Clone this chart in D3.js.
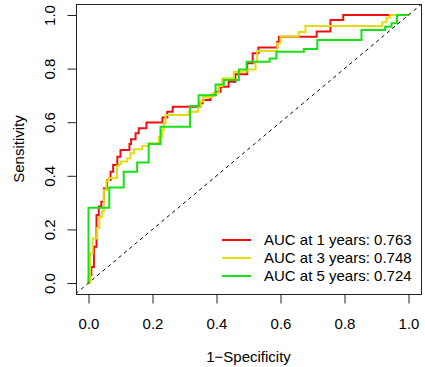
<!DOCTYPE html>
<html>
<head>
<meta charset="utf-8">
<script src="https://cdn.jsdelivr.net/npm/d3@7"></script>
<style>
    body { margin: 0; background: #fff; }
    svg text { font-family: "Liberation Sans", Arial, Helvetica, sans-serif; font-size: 15px; fill: #000; }
</style>
</head>
<body>
<div id="roc-chart"></div>
<script>

// ROC step points: at each fpr the curve jumps up to the tpr
const fprYear1 = [0, 0.001, 0.003, 0.009, 0.017, 0.025, 0.032, 0.040, 0.048, 0.058, 0.069, 0.077, 0.090, 0.100,
    0.128, 0.133, 0.147, 0.157, 0.181, 0.231, 0.246, 0.263, 0.350, 0.357, 0.381, 0.397, 0.413, 0.438, 0.459,
    0.496, 0.513, 0.531, 0.590, 0.595, 0.713, 0.756, 0.796, 1];
const tprYear1 = [0, 0.018, 0.030, 0.060, 0.135, 0.254, 0.285, 0.303, 0.353, 0.384, 0.415, 0.440, 0.471, 0.496,
    0.519, 0.536, 0.559, 0.577, 0.599, 0.618, 0.639, 0.658, 0.671, 0.683, 0.701, 0.714, 0.732, 0.751, 0.779,
    0.820, 0.857, 0.879, 0.900, 0.919, 0.938, 0.981, 1, 1];

const fprYear3 = [0, 0.005, 0.013, 0.027, 0.034, 0.042, 0.048, 0.056, 0.064, 0.089, 0.095, 0.102, 0.121, 0.131,
    0.142, 0.168, 0.188, 0.220, 0.230, 0.235, 0.241, 0.313, 0.342, 0.350, 0.359, 0.387, 0.407, 0.418, 0.454,
    0.494, 0.522, 0.527, 0.590, 0.600, 0.657, 0.678, 0.918, 0.931, 0.942, 1];
const tprYear3 = [0, 0.110, 0.166, 0.205, 0.246, 0.267, 0.347, 0.382, 0.392, 0.437, 0.444, 0.453, 0.465, 0.484,
    0.499, 0.511, 0.521, 0.546, 0.571, 0.596, 0.627, 0.639, 0.658, 0.677, 0.694, 0.708, 0.735, 0.764, 0.788,
    0.797, 0.826, 0.866, 0.894, 0.920, 0.937, 0.959, 0.973, 0.990, 1, 1];

const fprYear5 = [0, 0, 0.065, 0.110, 0.152, 0.188, 0.225, 0.317, 0.344, 0.397, 0.423, 0.470, 0.494, 0.566,
    0.587, 0.673, 0.715, 0.853, 0.927, 0.947, 0.964, 1];
const tprYear5 = [0, 0.281, 0.356, 0.415, 0.450, 0.519, 0.583, 0.660, 0.701, 0.741, 0.757, 0.797, 0.826, 0.838,
    0.863, 0.873, 0.907, 0.944, 0.956, 0.969, 1, 1];

const years = [1, 3, 5];
const aucValues = [0.763, 0.748, 0.724];
const seriesColors = ["#ee1111", "#e4dc12", "#18e018"];

const axisTicks = [0, 0.2, 0.4, 0.6, 0.8, 1.0];


class RocChart {
    constructor(_parentElement, _series) {
        this.parentElement = _parentElement;
        this.series = _series;

        this.initVis();
    }

    initVis() {
        let vis = this;

        vis.width  = 425;
        vis.height = 367;

        vis.svg = d3.select("#" + vis.parentElement).append("svg")
            .attr("width", vis.width)
            .attr("height", vis.height);

        // R style: usr range extends 4% past the data
        vis.x = d3.scaleLinear().domain([0, 1]).range([88.5, 408.5]);
        vis.y = d3.scaleLinear().domain([0, 1]).range([283, 15]);

        vis.left   = vis.x(-0.04);
        vis.right  = vis.x(1.04);
        vis.top    = vis.y(1.04);
        vis.bottom = vis.y(-0.04);

        vis.svg.append("clipPath")
            .attr("id", "plot-clip")
            .append("rect")
            .attr("x", vis.left)
            .attr("y", vis.top)
            .attr("width", vis.right - vis.left)
            .attr("height", vis.bottom - vis.top);

        vis.plot = vis.svg.append("g").attr("clip-path", "url(#plot-clip)");

        vis.line = d3.line()
            .x(d => vis.x(d[0]))
            .y(d => vis.y(d[1]))
            .curve(d3.curveStepAfter);

        vis.updateVis();
    }

    updateVis() {
        let vis = this;

        vis.plot.selectAll(".roc-line")
            .data(vis.series)
            .enter().append("path")
            .attr("class", "roc-line")
            .attr("d", d => vis.line(d3.zip(d.fpr, d.tpr)))
            .style("fill", "none")
            .style("stroke", d => d.color)
            .style("stroke-width", 2);

        // reference diagonal across the whole plot region
        vis.plot.append("line")
            .attr("x1", vis.x(-0.04)).attr("y1", vis.y(-0.04))
            .attr("x2", vis.x(1.04)).attr("y2", vis.y(1.04))
            .style("stroke", "#000")
            .style("stroke-width", 1)
            .style("stroke-dasharray", "3.5,3.5");

        vis.svg.append("rect")
            .attr("x", Math.round(vis.left) + 0.5)
            .attr("y", Math.round(vis.top) + 0.5)
            .attr("width", Math.round(vis.right) - Math.round(vis.left))
            .attr("height", Math.round(vis.bottom) - Math.round(vis.top))
            .style("fill", "none")
            .style("stroke", "#222")
            .style("stroke-width", 1);

        let xAxisGroup = vis.svg.append("g")
            .attr("transform", `translate(0, ${Math.round(vis.bottom) + 0.5})`)
            .call(d3.axisBottom(vis.x).tickValues(axisTicks).tickFormat(d3.format(".1f")).tickSize(9));
        xAxisGroup.select(".domain").remove();
        xAxisGroup.selectAll("line").attr("stroke", "#222");
        xAxisGroup.selectAll("text")
            .attr("dy", null)
            .attr("y", 34)
            .attr("fill", "#000")
            .style("font-size", "15px")
            .style("font-family", null);

        let yAxisGroup = vis.svg.append("g")
            .attr("transform", `translate(${Math.round(vis.left) + 0.5}, 0)`)
            .call(d3.axisLeft(vis.y).tickValues(axisTicks).tickFormat(d3.format(".1f")).tickSize(9));
        yAxisGroup.select(".domain").remove();
        yAxisGroup.selectAll("line").attr("stroke", "#222");
        yAxisGroup.selectAll("text")
            .attr("x", null)
            .attr("dy", null)
            .attr("text-anchor", "middle")
            .attr("transform", "translate(-22, 0) rotate(-90)")
            .attr("fill", "#000")
            .style("font-size", "15px")
            .style("font-family", null);

        vis.svg.append("text")
            .attr("x", (vis.left + vis.right) / 2)
            .attr("y", 362)
            .attr("text-anchor", "middle")
            .text("1\u2212Specificity");

        vis.svg.append("text")
            .attr("transform", `translate(24, ${(vis.top + vis.bottom) / 2}) rotate(-90)`)
            .attr("text-anchor", "middle")
            .text("Sensitivity");

        // legend, no box
        let legend = vis.svg.selectAll(".legend-row")
            .data(vis.series)
            .enter().append("g")
            .attr("class", "legend-row")
            .attr("transform", (d, i) => `translate(0, ${240 + i * 18})`);

        legend.append("line")
            .attr("x1", 222).attr("x2", 251)
            .attr("y1", 0).attr("y2", 0)
            .style("stroke", d => d.color)
            .style("stroke-width", 2);

        legend.append("text")
            .attr("x", 264)
            .attr("y", 5.3)
            .text(d => d.label);
    }
}

let rocSeries = [
    { fpr: fprYear1, tpr: tprYear1 },
    { fpr: fprYear3, tpr: tprYear3 },
    { fpr: fprYear5, tpr: tprYear5 }
].map((s, i) => ({
    ...s,
    color: seriesColors[i],
    label: `AUC at ${years[i]} years: ${aucValues[i].toFixed(3)}`
}));

new RocChart("roc-chart", rocSeries);

</script>
</body>
</html>
